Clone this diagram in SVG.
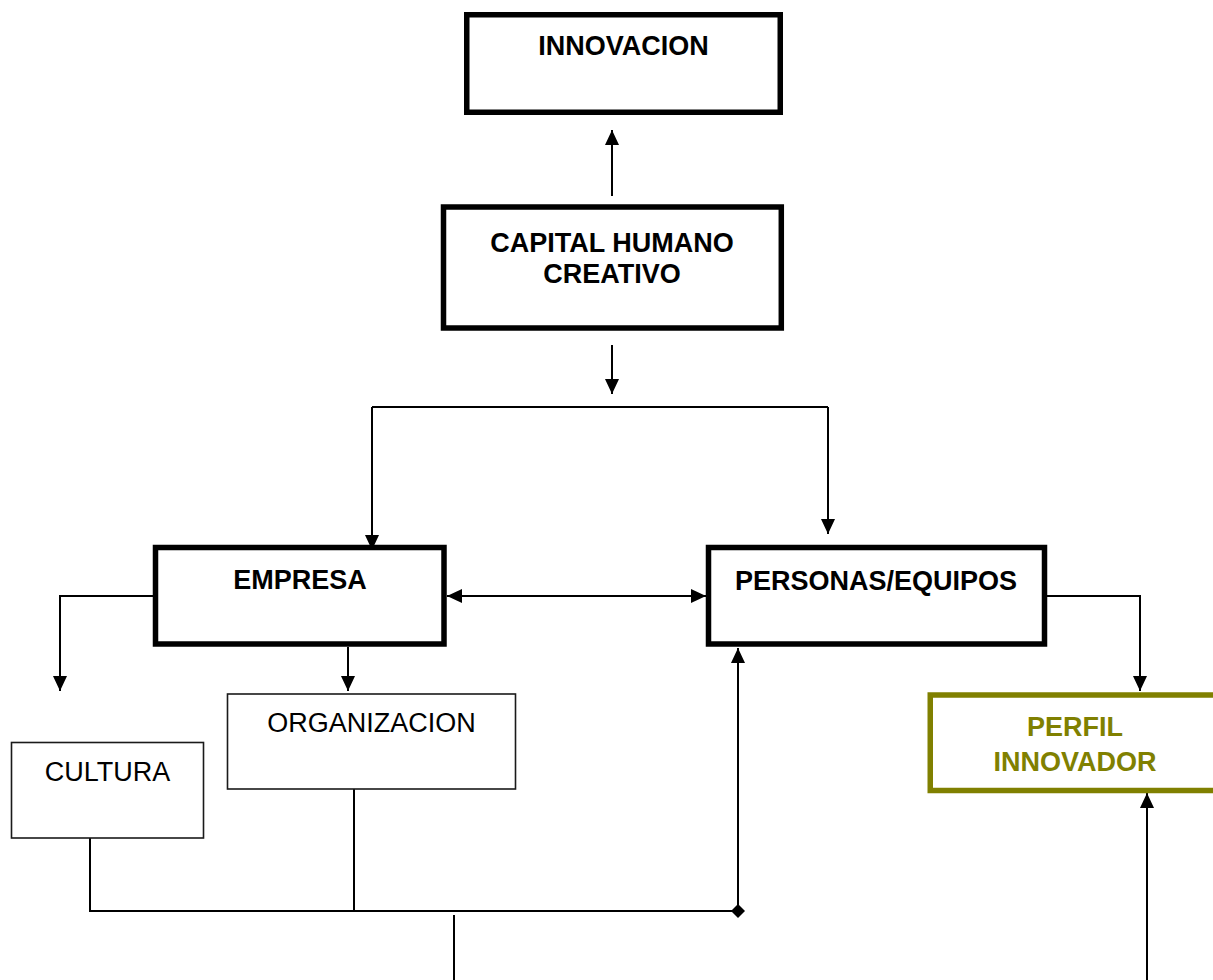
<svg xmlns="http://www.w3.org/2000/svg" width="1213" height="980" viewBox="0 0 1213 980">
<style>
  .thick { fill: #ffffff; stroke: #000000; stroke-width: 5.5; }
  .thin { fill: #ffffff; stroke: #1a1a1a; stroke-width: 1.6; }
  .olive { fill: #ffffff; stroke: #808000; stroke-width: 5.5; }
  .lbl { font-family: "Liberation Sans", Arial, sans-serif; font-size: 27px; text-anchor: middle; fill: #000000; }
  .b { font-weight: bold; }
  .ol { fill: #808000; }
  .conn path { fill: none; stroke: #000000; stroke-width: 2; }
  .arrow { marker-end: url(#ah); }
</style>
<defs>
  <marker id="ah" viewBox="0 0 15 14" refX="15" refY="7" markerWidth="15" markerHeight="14" markerUnits="userSpaceOnUse" orient="auto">
    <path d="M0,0 L15,7 L0,14 z" fill="#000000"/>
  </marker>
  <marker id="ahs" viewBox="0 0 15 14" refX="15" refY="7" markerWidth="15" markerHeight="14" markerUnits="userSpaceOnUse" orient="auto-start-reverse">
    <path d="M0,0 L15,7 L0,14 z" fill="#000000"/>
  </marker>
  <marker id="dia" viewBox="0 0 14 14" refX="7" refY="7" markerWidth="14" markerHeight="14" markerUnits="userSpaceOnUse" orient="auto">
    <path d="M7,0 L14,7 L7,14 L0,7 z" fill="#000000"/>
  </marker>
</defs>
<rect width="1213" height="980" fill="#ffffff"/>

<g id="connectors" class="conn">
  <path class="arrow" d="M612,196 L612,130"/>
  <path class="arrow" d="M612,345 L612,394"/>
  <path d="M372,407 L828,407"/>
  <path class="arrow" d="M372,407 L372,550"/>
  <path class="arrow" d="M828,407 L828,534"/>
  <path d="M447,596 L706,596" marker-start="url(#ahs)" marker-end="url(#ahs)"/>
  <path class="arrow" d="M153,596 L60,596 L60,691"/>
  <path class="arrow" d="M348,647 L348,691"/>
  <path class="arrow" d="M1047,596 L1140,596 L1140,691"/>
  <path d="M90,838 L90,911 L738,911"/>
  <path d="M354,789 L354,911"/>
  <path class="arrow" d="M738,911 L738,648" marker-start="url(#dia)"/>
  <path d="M454,915 L454,980"/>
  <path class="arrow" d="M1147,980 L1147,793"/>
</g>

<g id="innovacion">
  <rect class="thick" x="466.75" y="14.75" width="313.5" height="97.5"/>
  <text class="lbl b" x="623.5" y="55">INNOVACION</text>
</g>

<g id="capital">
  <rect class="thick" x="443.5" y="207" width="337.8" height="121"/>
  <text class="lbl b" x="612" y="252">CAPITAL HUMANO</text>
  <text class="lbl b" x="612" y="283">CREATIVO</text>
</g>

<g id="empresa">
  <rect class="thick" x="155.5" y="547.5" width="288.5" height="96.5"/>
  <text class="lbl b" x="300" y="589">EMPRESA</text>
</g>

<g id="personas">
  <rect class="thick" x="708.5" y="547.5" width="336" height="96.5"/>
  <text class="lbl b" x="876" y="590">PERSONAS/EQUIPOS</text>
</g>

<g id="organizacion">
  <rect class="thin" x="227.5" y="694" width="288" height="95"/>
  <text class="lbl" x="371.5" y="732">ORGANIZACION</text>
</g>

<g id="cultura">
  <rect class="thin" x="11.5" y="742.5" width="192" height="95.5"/>
  <text class="lbl" x="107.5" y="781">CULTURA</text>
</g>

<g id="perfil">
  <rect class="olive" x="930.25" y="695" width="290" height="95.5"/>
  <text class="lbl b ol" x="1075" y="736">PERFIL</text>
  <text class="lbl b ol" x="1075" y="771">INNOVADOR</text>
</g>
</svg>
